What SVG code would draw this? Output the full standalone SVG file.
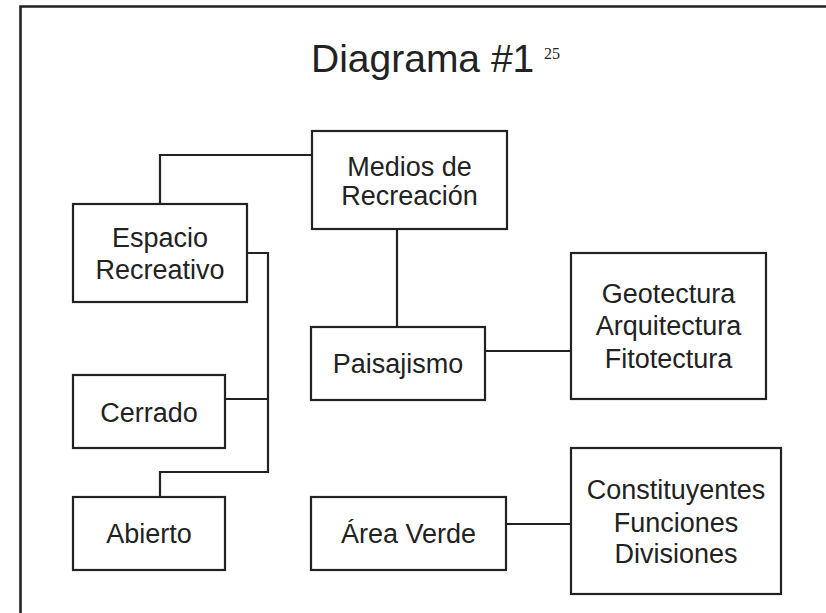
<svg xmlns="http://www.w3.org/2000/svg" width="826" height="613" viewBox="0 0 826 613">
<style>
.box{fill:#fff;stroke:#222;stroke-width:2.2}
.lbl{font-family:"Liberation Sans",Arial,sans-serif;font-size:27px;fill:#222;text-anchor:middle}
.con{fill:none;stroke:#222;stroke-width:2.2}
</style>
<rect x="0" y="0" width="826" height="613" fill="#fff"/>
<path d="M20.5,613 V6.5 H826" fill="none" stroke="#222" stroke-width="2.6"/>
<g id="title">
<text x="311" y="72" font-family="'Liberation Sans',Arial,sans-serif" font-size="39" fill="#222">Diagrama #1</text>
<text x="544" y="59" font-family="'Liberation Serif','Times New Roman',serif" font-size="16" fill="#222">25</text>
</g>
<g id="connectors">
<path class="con" d="M312,155 H160 V204"/>
<path class="con" d="M397,229 V327"/>
<path class="con" d="M247,253 H268 V472 H160 V497"/>
<path class="con" d="M225,399 H268"/>
<path class="con" d="M485,351 H571"/>
<path class="con" d="M506,524 H571"/>
</g>
<g id="medios">
<rect class="box" x="312" y="131" width="195" height="98"/>
<text class="lbl" x="409.5" y="176">Medios de</text>
<text class="lbl" x="409.5" y="205">Recreación</text>
</g>
<g id="espacio">
<rect class="box" x="73" y="204" width="174" height="98"/>
<text class="lbl" x="160" y="247">Espacio</text>
<text class="lbl" x="160" y="279">Recreativo</text>
</g>
<g id="cerrado">
<rect class="box" x="73" y="375" width="152" height="73"/>
<text class="lbl" x="149" y="422">Cerrado</text>
</g>
<g id="abierto">
<rect class="box" x="73" y="497" width="152" height="73"/>
<text class="lbl" x="149" y="543">Abierto</text>
</g>
<g id="paisajismo">
<rect class="box" x="311" y="327" width="174" height="73"/>
<text class="lbl" x="398" y="373">Paisajismo</text>
</g>
<g id="geotectura">
<rect class="box" x="571" y="253" width="195" height="146"/>
<text class="lbl" x="668.5" y="303">Geotectura</text>
<text class="lbl" x="668.5" y="335">Arquitectura</text>
<text class="lbl" x="668.5" y="368">Fitotectura</text>
</g>
<g id="areaverde">
<rect class="box" x="311" y="497" width="195" height="73"/>
<text class="lbl" x="408.5" y="543">Área Verde</text>
</g>
<g id="constituyentes">
<rect class="box" x="571" y="448" width="210" height="146"/>
<text class="lbl" x="676" y="499">Constituyentes</text>
<text class="lbl" x="676" y="532">Funciones</text>
<text class="lbl" x="676" y="563">Divisiones</text>
</g>
</svg>
